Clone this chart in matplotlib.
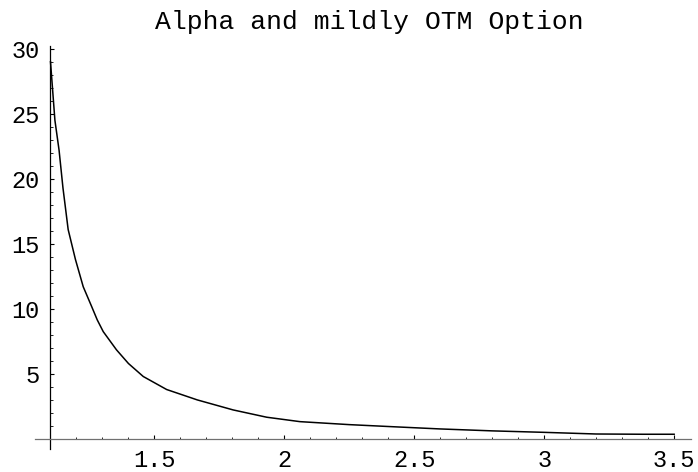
import numpy as np
import matplotlib.pyplot as plt
from matplotlib.ticker import FixedLocator

# values
x_vals = [1.1, 1.117, 1.133, 1.148, 1.168, 1.196, 1.226, 1.258, 1.28, 1.303, 1.354, 1.40,
          1.457, 1.547, 1.665, 1.803, 1.932, 2.06, 2.25, 2.406, 2.598, 2.80, 2.995,
          3.2, 3.38, 3.5]
y_vals = [29.0, 24.5, 22.2, 19.3, 16.1, 13.8, 11.7, 10.2, 9.15, 8.25, 6.85, 5.8,
          4.8, 3.8, 3.0, 2.23, 1.67, 1.33, 1.1, 0.95, 0.77, 0.62, 0.51,
          0.38, 0.36, 0.36]

x_major = [1.5, 2.0, 2.5, 3.0, 3.5]
x_labels = ["1.5", "2", "2.5", "3", "3.5"]
y_major = [5, 10, 15, 20, 25, 30]
y_labels = ["5", "10", "15", "20", "25", "30"]

title = "Alpha and mildly OTM Option"
mono = "Liberation Mono"

fig = plt.figure(figsize=(6.98, 4.72), dpi=100)
ax = fig.add_axes([0.05, 0.048, 0.94, 0.857])

ax.plot(x_vals, y_vals, color="black", lw=1.1, solid_joinstyle="miter")

ax.set_xlim(1.04, 3.565)
ax.set_ylim(-0.8, 30.3)

# Mathematica style axes crossing at (1.1, 0)
ax.spines["top"].set_visible(False)
ax.spines["right"].set_visible(False)
ax.spines["left"].set_position(("data", 1.1))
ax.spines["bottom"].set_position(("data", 0))
ax.spines["left"].set_bounds(-0.8, 30.2)
ax.spines["bottom"].set_color("#707070")
ax.spines["left"].set_linewidth(0.9)
ax.spines["bottom"].set_linewidth(0.9)

ax.set_xticks(x_major)
ax.set_xticklabels(x_labels)
ax.set_yticks(y_major)
ax.set_yticklabels(y_labels)

x_minor = [round(1.1 + 0.1 * i, 2) for i in range(1, 25)]
x_minor = [v for v in x_minor if round(v * 2) != v * 2]
y_minor = [v for v in range(1, 30) if v % 5 != 0]
ax.xaxis.set_minor_locator(FixedLocator(x_minor))
ax.yaxis.set_minor_locator(FixedLocator(y_minor))

ax.tick_params(axis="both", which="major", direction="in", length=3.2, width=0.8)
ax.tick_params(axis="both", which="minor", direction="in", length=1.8, width=0.6)
ax.tick_params(axis="x", pad=7.5)
ax.tick_params(axis="y", pad=8)

for lab in ax.get_xticklabels() + ax.get_yticklabels():
    lab.set_fontfamily(mono)
    lab.set_fontsize(17)

fig.text(0.529, 0.953, title, ha="center", va="center", fontfamily=mono, fontsize=19)

fig.savefig("out.png", dpi=100)
